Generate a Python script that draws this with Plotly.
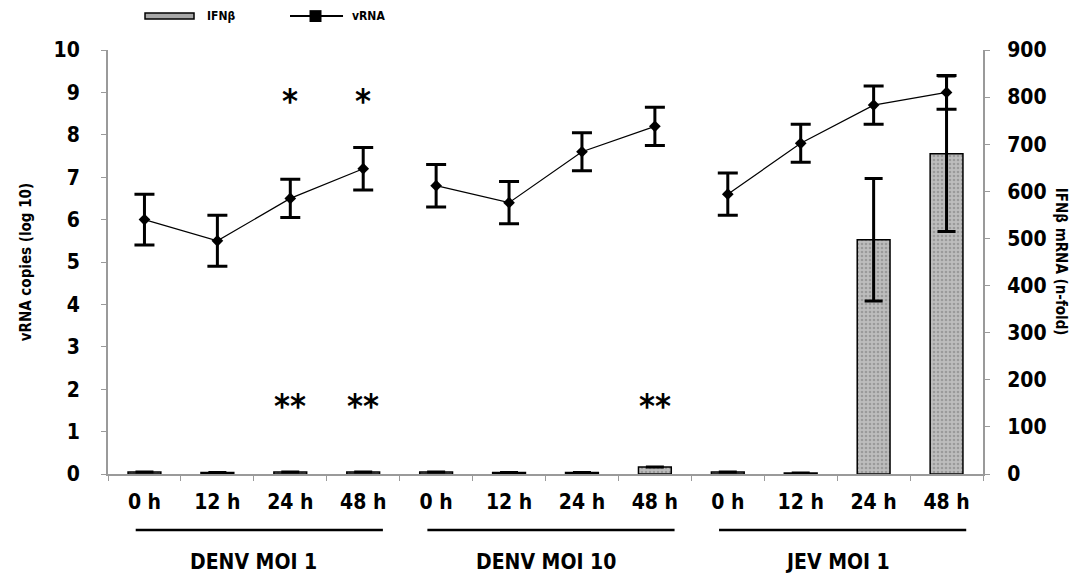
import plotly.graph_objects as go

groups = ["DENV MOI 1", "DENV MOI 10", "JEV MOI 1"]
times = ["0 h", "12 h", "24 h", "48 h"]

vrna = [[6.0, 5.5, 6.5, 7.2], [6.8, 6.4, 7.6, 8.2], [6.6, 7.8, 8.7, 9.0]]
vrna_err = [[0.6, 0.6, 0.45, 0.5], [0.5, 0.5, 0.45, 0.45], [0.5, 0.45, 0.45, 0.4]]

ifnb = [4, 3, 4, 4, 4, 3, 3, 15, 4, 2, 497, 680]
ifnb_err = [0, 0, 0, 0, 0, 0, 0, 0, 0, 0, 130, 165]

star1_pos = [2, 3]          # single star, left-axis value
star1_y = 8.8
star2_pos = [2, 3, 7]       # double star
star2_y = 1.6

legend_labels = ["IFNβ", "vRNA"]

FONT = "Liberation Sans Narrow, DejaVu Sans Condensed, Arial Narrow, Liberation Sans, sans-serif"
BAR_FILL = "#a8a8a8"

fig = go.Figure()

xs = list(range(12))
fig.add_trace(go.Bar(
    x=xs, y=ifnb, yaxis="y2", name=legend_labels[0], width=0.45,
    marker=dict(color=BAR_FILL, line=dict(color="black", width=1.5),
                pattern=dict(shape=".", fgcolor="#777777", bgcolor="#bdbdbd", size=4, solidity=0.35)),
    error_y=dict(type="data", array=ifnb_err, visible=True, color="black", thickness=3, width=9),
    showlegend=False,
))

for g in range(3):
    fig.add_trace(go.Scatter(
        x=[4 * g + i for i in range(4)], y=vrna[g], yaxis="y", name=legend_labels[1],
        mode="lines+markers",
        line=dict(color="black", width=1.2),
        marker=dict(symbol="diamond", size=9, color="black"),
        error_y=dict(type="data", array=vrna_err[g], visible=True, color="black", thickness=3, width=10),
        showlegend=False,
    ))

annotations = []
for p in star1_pos:
    annotations.append(dict(x=p, y=star1_y, xref="x", yref="y", text="*", showarrow=False,
                            font=dict(size=34, family=FONT, color="black", weight="bold")))
for p in star2_pos:
    annotations.append(dict(x=p, y=star2_y, xref="x", yref="y", text="**", showarrow=False,
                            font=dict(size=34, family=FONT, color="black", weight="bold")))

shapes = []
for g, name in enumerate(groups):
    shapes.append(dict(type="line", xref="x", yref="paper", x0=4 * g - 0.12, x1=4 * g + 3.27,
                       y0=-0.132, y1=-0.132, line=dict(color="black", width=2.5)))
    annotations.append(dict(x=4 * g + 1.5, y=-0.208, xref="x", yref="paper", text=name,
                            showarrow=False, yanchor="middle",
                            font=dict(size=21, family=FONT, color="black", weight="bold")))

annotations.append(dict(x=-0.106, y=0.5, xref="paper", yref="paper", text="vRNA copies (log 10)",
                        textangle=-90, showarrow=False,
                        font=dict(size=15, family=FONT, color="black", weight="bold")))
annotations.append(dict(x=1.102, y=0.5, xref="paper", yref="paper", text="IFNβ mRNA (n-fold)",
                        textangle=90, showarrow=False,
                        font=dict(size=15, family=FONT, color="black", weight="bold")))

# legend (drawn in paper space above the plot)
shapes.append(dict(type="rect", xref="paper", yref="paper", x0=0.0423, x1=0.0983, y0=1.0731, y1=1.0873,
                   fillcolor=BAR_FILL, line=dict(color="black", width=1.5)))
shapes.append(dict(type="line", xref="paper", yref="paper", x0=0.208, x1=0.2686, y0=1.080, y1=1.080,
                   line=dict(color="black", width=2)))
shapes.append(dict(type="rect", xref="paper", yref="paper", x0=0.2303, x1=0.2440, y0=1.066, y1=1.094,
                   fillcolor="black", line=dict(color="black", width=0)))
annotations.append(dict(x=0.1109, y=1.080, xref="paper", yref="paper", text=legend_labels[0],
                        xanchor="left", yanchor="middle", showarrow=False,
                        font=dict(size=12, family=FONT, color="black", weight="bold")))
annotations.append(dict(x=0.2766, y=1.080, xref="paper", yref="paper", text=legend_labels[1],
                        xanchor="left", yanchor="middle", showarrow=False,
                        font=dict(size=12, family=FONT, color="black", weight="bold")))

fig.update_layout(
    width=1081, height=570,
    margin=dict(l=100, r=106, t=42, b=104, autoexpand=False),
    paper_bgcolor="white", plot_bgcolor="white",
    font=dict(family=FONT, color="black"),
    showlegend=False,
    xaxis=dict(range=[-0.5, 11.5], tickmode="array", tickvals=xs,
               ticktext=times * 3, ticks="", showgrid=False, zeroline=False,
               showline=True, linecolor="#9a9a9a", linewidth=2, ticklabelstandoff=8,
               tickfont=dict(size=21, family=FONT, color="black", weight="bold"),
               minor=dict(tickmode="array", tickvals=[i + 0.5 for i in range(-1, 12)],
                          ticks="outside", ticklen=5, tickcolor="#9a9a9a", tickwidth=1)),
    yaxis=dict(range=[0, 10], dtick=1, ticks="outside", ticklen=5, tickcolor="#9a9a9a",
               showgrid=False, zeroline=False, showline=True, linecolor="#9a9a9a", linewidth=2,
               ticklabelstandoff=17,
               tickfont=dict(size=21, family=FONT, color="black", weight="bold")),
    yaxis2=dict(range=[0, 900], dtick=100, overlaying="y", side="right", ticks="outside",
                ticklen=5, tickcolor="#9a9a9a", showgrid=False, zeroline=False,
                showline=True, linecolor="#9a9a9a", linewidth=2, ticklabelstandoff=13,
                tickfont=dict(size=21, family=FONT, color="black", weight="bold")),
    annotations=annotations,
    shapes=shapes,
    bargap=0.5,
)

fig.write_html("out.html")
